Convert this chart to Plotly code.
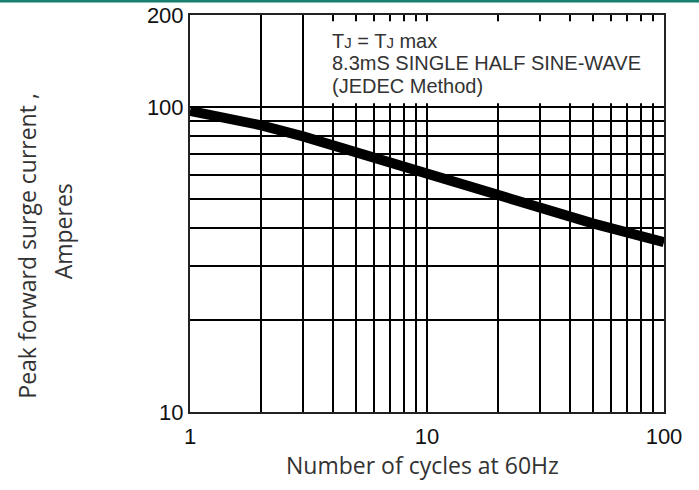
import plotly.graph_objects as go

# curve
ciclos = [1, 2, 3, 5, 10, 20, 30, 50, 100]
corrente = [97, 87, 80, 71, 60, 51.5, 47, 41.5, 36]

x_ticks = [1, 2, 3, 4, 5, 6, 7, 8, 9, 10, 20, 30, 40, 50, 60, 70, 80, 90, 100]
x_labels = ["1", "", "", "", "", "", "", "", "", "10", "", "", "", "", "", "", "", "", "100"]
y_ticks = [10, 20, 30, 40, 50, 60, 70, 80, 90, 100, 200]
y_labels = ["10", "", "", "", "", "", "", "", "", "100", "200"]

nota = ["T<span style='font-size:15px'>J</span> = T<span style='font-size:15px'>J</span> max",
        "8.3mS SINGLE HALF SINE-WAVE",
        "(JEDEC Method)"]

fig = go.Figure(go.Scatter(
    x=ciclos,
    y=corrente,
    mode='lines',
    line=dict(color='black', width=10),
    hoverinfo='skip'
))

eixo = dict(
    type='log',
    showgrid=True, gridcolor='black', gridwidth=1.8,
    showline=True, linecolor='#222', linewidth=2, mirror=True,
    ticks='', zeroline=False, automargin=False,
    tickfont=dict(family='Liberation Sans, Arial', size=22, color='#111'),
)

fig.update_xaxes(eixo, range=[0, 2], tickvals=x_ticks, ticktext=x_labels, ticklabelstandoff=4)
fig.update_yaxes(eixo, range=[1, 2.30103], tickvals=y_ticks, ticktext=y_labels)

# white panel hiding the minor grid behind the note
fig.add_shape(type='rect', xref='paper', yref='paper',
              x0=0.2425, x1=0.997, y0=0.778, y1=0.984,
              fillcolor='white', line=dict(width=0), layer='above')

for linha, yy in zip(nota, [0.935, 0.878, 0.822]):
    fig.add_annotation(text=linha, xref='paper', yref='paper', x=0.295, y=yy,
                       xanchor='left', yanchor='middle', showarrow=False,
                       font=dict(family='Liberation Sans, Arial', size=20, color='#333'))

titulo = dict(family='Open Sans', size=23, color='#333')
fig.add_annotation(text='Peak forward surge current ,', textangle=-90, xref='paper', yref='paper',
                   x=-0.343, y=0.42, xanchor='center', yanchor='middle', showarrow=False, font=titulo)
fig.add_annotation(text='Amperes', textangle=-90, xref='paper', yref='paper',
                   x=-0.268, y=0.455, xanchor='center', yanchor='middle', showarrow=False, font=titulo)
fig.add_annotation(text='Number of cycles at 60Hz', xref='paper', yref='paper',
                   x=0.49, y=-0.134, yanchor='middle', showarrow=False, font=titulo)

# teal rule across the top of the page
fig.add_shape(type='line', xref='paper', yref='paper', x0=-0.41, x1=1.08,
              y0=1.0355, y1=1.0355, line=dict(color='#17806f', width=3))

fig.update_layout(
    width=699, height=490,
    showlegend=False,
    plot_bgcolor='white', paper_bgcolor='white',
    margin=dict(l=190, r=35, t=15, b=78),
)

fig.write_html("out.html", config={'displayModeBar': False},
               post_script="document.body.style.margin='0';")
